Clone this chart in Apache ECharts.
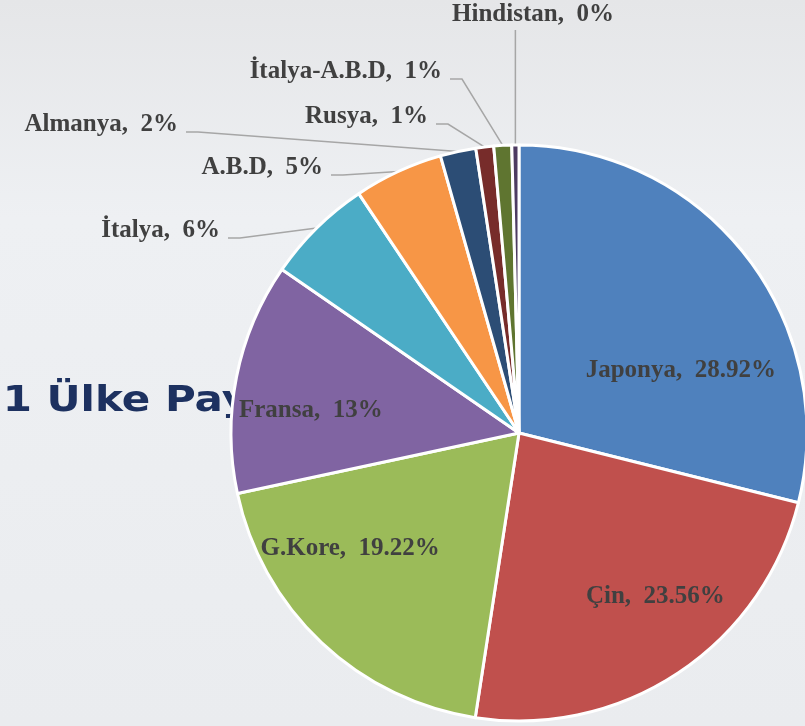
<!DOCTYPE html>
<html>
<head>
<meta charset="utf-8">
<script src="https://cdn.jsdelivr.net/npm/echarts@6/dist/echarts.min.js"></script>
<style>
  html, body { margin: 0; padding: 0; }
  #chart { width: 805px; height: 726px; }
</style>
</head>
<body>
<div id="chart"></div>
<script>
// ülkeler ve payları (%)
const countries = ['Japonya', 'Çin', 'G.Kore', 'Fransa', 'İtalya', 'A.B.D', 'Almanya', 'Rusya', 'İtalya-A.B.D', 'Hindistan']
const shares = [28.92, 23.56, 19.22, 13, 6, 5, 2, 1, 1, 0.4]
const shareLabels = ['28.92%', '23.56%', '19.22%', '13%', '6%', '5%', '2%', '1%', '1%', '0%']
const colors = ['#4f81bd', '#c0504d', '#9bbb59', '#8064a2', '#4bacc6', '#f79646', '#2c4d75', '#772c2a', '#5f7530', '#4d3b62']

// ilk dört dilimin etiketi içeride
const insideCount = 4
// etiket kaydırmaları (iç etiketler için varsayılan konumdan)
const insideShift = [[46, 28], [55, 41], [-68, 9], [-64, 6]]
// dış etiketler: sağ kenar x, orta y
const outsidePos = {
    'İtalya': [220, 231],
    'A.B.D': [323, 168],
    'Almanya': [178, 125],
    'Rusya': [428, 117],
    'İtalya-A.B.D': [442, 72],
    'Hindistan': [533, 15]
}

const chart = echarts.init(document.getElementById('chart'))

const data = countries.map((name, i) => {
    const inside = i < insideCount
    return {
        name: name,
        value: shares[i],
        itemStyle: { color: colors[i] },
        label: { position: inside ? 'inside' : 'outside' },
        labelLine: { show: !inside }
    }
})

chart.setOption({
    backgroundColor: {
        type: 'linear', x: 0, y: 0, x2: 0, y2: 1,
        colorStops: [
            { offset: 0, color: '#e5e6e8' },
            { offset: 0.3, color: '#eef0f3' },
            { offset: 1, color: '#eaecef' }
        ]
    },
    graphic: [
        {
            // arka plandaki başlık, pastanın arkasında kalıyor
            type: 'text',
            z: -1,
            x: -85,
            y: 384,
            scaleX: 1.2,
            style: {
                text: '2021 Ülke Payları',
                x: 0,
                y: 0,
                verticalAlign: 'top',
                font: 'bold 35px "DejaVu Sans"',
                fill: '#1d3160'
            }
        }
    ],
    series: [
        {
            type: 'pie',
            center: [519, 433],
            radius: 288,
            startAngle: 90,
            clockwise: true,
            avoidLabelOverlap: false,
            animation: false,
            itemStyle: { borderColor: '#ffffff', borderWidth: 3 },
            label: {
                formatter: p => p.name + ',  ' + shareLabels[p.dataIndex],
                fontFamily: 'Liberation Serif',
                fontWeight: 'bold',
                fontSize: 25,
                color: '#404040'
            },
            labelLine: {
                lineStyle: { color: '#a6a6a6', width: 1.5 }
            },
            labelLayout: params => {
                const i = params.dataIndex
                if (i < insideCount) {
                    return { dx: insideShift[i][0], dy: insideShift[i][1] }
                }
                const pos = outsidePos[countries[i]]
                const edge = params.labelLinePoints[0]
                if (countries[i] === 'Hindistan') {
                    const ly = pos[1] + 15
                    return {
                        x: pos[0], y: pos[1], align: 'center', verticalAlign: 'middle',
                        labelLinePoints: [edge, [edge[0], ly], [edge[0], ly]]
                    }
                }
                const ly = pos[1] + 7
                return {
                    x: pos[0], y: pos[1], align: 'right', verticalAlign: 'middle',
                    labelLinePoints: [edge, [pos[0] + 20, ly], [pos[0] + 8, ly]]
                }
            },
            data: data
        }
    ]
})
</script>
</body>
</html>
